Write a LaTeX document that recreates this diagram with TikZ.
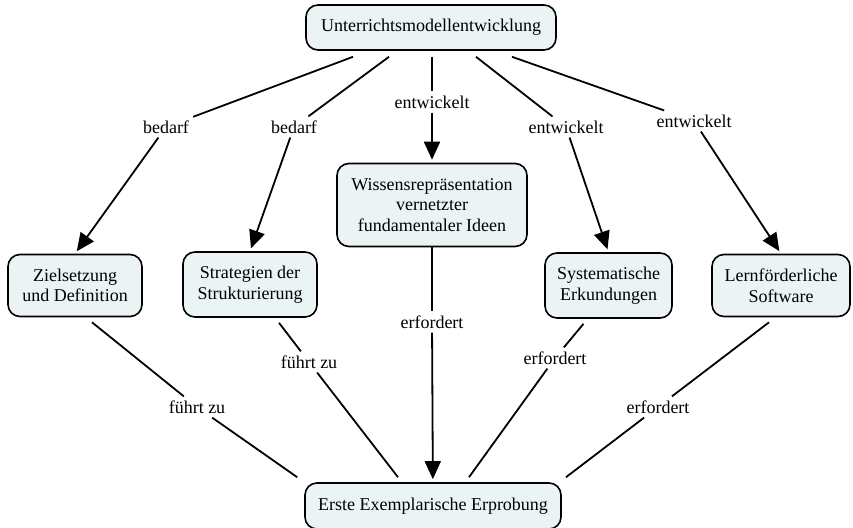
\documentclass[tikz,border=0pt]{standalone}
\usepackage{fontspec}
\setmainfont{Liberation Serif}
\usetikzlibrary{arrows.meta}
\definecolor{conceptfill}{RGB}{235,243,245}
\tikzset{
  concept/.style={draw=black, line width=1.6pt, fill=conceptfill, rounded corners=12pt,
    align=center, inner sep=0pt, font=\fontsize{18}{20.5}\selectfont},
  linklabel/.style={inner sep=4pt, font=\fontsize{18}{20.5}\selectfont},
  link/.style={line width=1.8pt},
  linkarrow/.style={line width=1.8pt, -{Triangle[length=18pt,width=16pt]}, shorten >=3pt}
}
\begin{document}
\begin{tikzpicture}[x=1pt,y=-1pt]
\useasboundingbox (0,0) rectangle (853,527);

% concepts
\node[concept, minimum width=250pt, minimum height=45pt] (top) at (431,27.5) {Unterrichtsmodellentwicklung};
\node[concept, minimum width=134pt, minimum height=62pt] (ziel) at (75,285.5) {Zielsetzung\\und Definition};
\node[concept, minimum width=134pt, minimum height=65pt] (strat) at (250,284.5) {Strategien der\\Strukturierung};
\node[concept, minimum width=190pt, minimum height=83pt] (wiss) at (432,205) {Wissensrepräsentation\\vernetzter\\fundamentaler Ideen};
\node[concept, minimum width=127pt, minimum height=65pt] (syst) at (608.5,285.5) {Systematische\\Erkundungen};
\node[concept, minimum width=138pt, minimum height=62pt] (lern) at (781,285.5) {Lernförderliche\\Software};
\node[concept, minimum width=256pt, minimum height=46pt] (erst) at (433,506) {Erste Exemplarische Erprobung};

% linking phrases
\node[linklabel] (l1) at (166,127) {bedarf};
\node[linklabel] (l2) at (294,127) {bedarf};
\node[linklabel] (l3) at (432,102) {entwickelt};
\node[linklabel] (l4) at (566,127) {entwickelt};
\node[linklabel] (l5) at (694,121) {entwickelt};
\node[linklabel] (l6) at (197,407) {führt zu};
\node[linklabel] (l7) at (309,362) {führt zu};
\node[linklabel] (l8) at (432,322) {erfordert};
\node[linklabel] (l9) at (555,358) {erfordert};
\node[linklabel] (l10) at (658,407) {erfordert};

% where the connectors leave and reach the concept boxes
\coordinate (t1) at ([shift={(-78,6)}]top.south);
\coordinate (t2) at ([shift={(-42,6)}]top.south);
\coordinate (t3) at ([shift={(1,6)}]top.south);
\coordinate (t4) at ([shift={(45,6)}]top.south);
\coordinate (t5) at ([shift={(81,6)}]top.south);
\coordinate (s6) at ([shift={(17,5)}]ziel.south);
\coordinate (s7) at ([shift={(29,5)}]strat.south);
\coordinate (s9) at ([shift={(-25,5)}]syst.south);
\coordinate (s10) at ([shift={(-12,5)}]lern.south);
\coordinate (e6) at ([shift={(-7,-5)}]erst.north west);
\coordinate (e7) at ([shift={(-35,-5)}]erst.north);
\coordinate (e9) at ([shift={(36,-5)}]erst.north);
\coordinate (e10) at ([shift={(133,-5)}]erst.north);

% top concept to its sub-concepts
\draw[link] (t1) -- (l1);
\draw[linkarrow] (l1) -- (ziel.north);
\draw[link] (t2) -- (l2);
\draw[linkarrow] (l2) -- (strat.north);
\draw[link] (t3) -- (l3);
\draw[linkarrow] (l3) -- (wiss);
\draw[link] (t4) -- (l4);
\draw[linkarrow] (l4) -- (syst.north);
\draw[link] (t5) -- (l5);
\draw[linkarrow] (l5) -- (lern.north);

% sub-concepts to the trial
\draw[link] (s6) -- (l6);
\draw[link] (l6) -- (e6);
\draw[link] (s7) -- (l7);
\draw[link] (l7) -- (e7);
\draw[link] (wiss) -- (l8);
\draw[linkarrow] (l8) -- (erst);
\draw[link] (s9) -- (l9);
\draw[link] (l9) -- (e9);
\draw[link] (s10) -- (l10);
\draw[link] (l10) -- (e10);
\end{tikzpicture}
\end{document}
